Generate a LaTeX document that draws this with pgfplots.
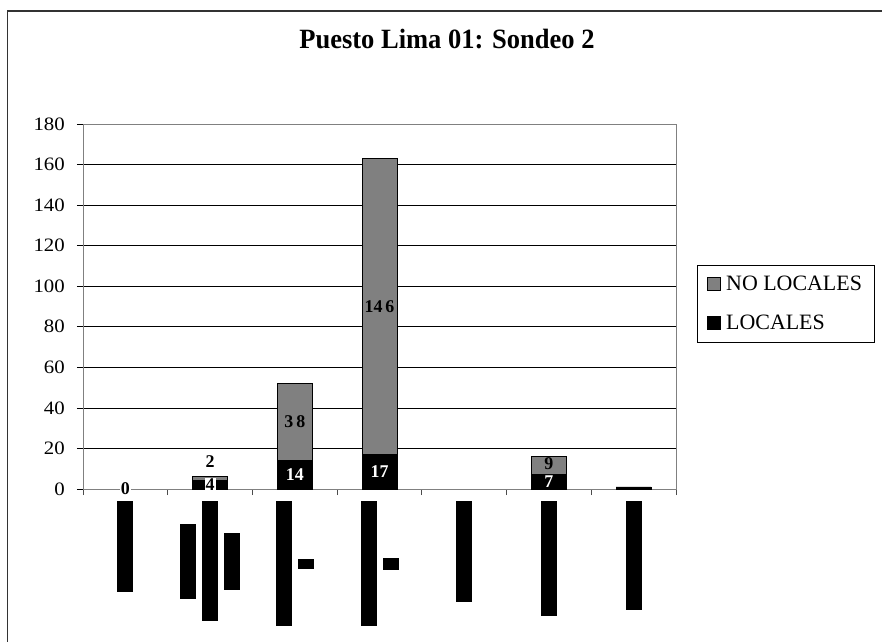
\documentclass[border=0pt]{standalone}
\usepackage{fontspec}
\setmainfont{Liberation Serif}
\usepackage{pgfplots}
\pgfplotsset{compat=1.18}
\definecolor{nolocal}{RGB}{128,128,128}
\definecolor{plotborder}{RGB}{128,128,128}
% rotated category names drawn as solid blocks, centred on the baseline
\newcommand\blk[1]{\rule[\dimexpr -#1bp/2\relax]{16bp}{#1bp}}
\newcommand\gap{\hspace{6bp}}
\tikzset{vl/.style={font=\bfseries\fontsize{18}{18}\selectfont, inner sep=1bp}}

\begin{document}
\begin{tikzpicture}
\path[use as bounding box] (0bp,0bp) rectangle (882bp,-642bp);
\begin{scope}
\clip (0bp,0bp) rectangle (882bp,-642bp);
\draw[line width=1.2bp, black!80] (7.5bp,-11bp) rectangle (900bp,-660bp);
\end{scope}

\begin{axis}[
    at={(83bp,-489bp)}, anchor=south west,
    scale only axis,
    width=593bp, height=365bp,
    ybar stacked,
    bar width=35bp,
    xmin=-0.5, xmax=6.5,
    ymin=0, ymax=180,
    ytick={0,20,...,180},
    yticklabel={\scalebox{1.1}[1]{\pgfmathprintnumber{\tick}}},
    xtick={0,...,6},
    xticklabels={
        {\blk{91}},
        {\blk{75}\gap\blk{120}\gap\blk{57}},
        {\blk{125}\gap\blk{10}},
        {\blk{125}\gap\blk{12}},
        {\blk{101}},
        {\blk{115}},
        {\blk{109}}},
    minor xtick={-0.5,0.5,...,6.5},
    xtick pos=bottom, ytick pos=left,
    x tick style={draw=none},
    minor x tick style={draw=black!70, line width=0.8bp},
    y tick style={draw=black, line width=0.6bp},
    tick align=outside,
    major tick length=6bp,
    minor tick length=6bp,
    ymajorgrids=true,
    grid style={black, line width=0.7bp},
    axis line style={plotborder, line width=1bp},
    xticklabel style={anchor=north, inner sep=0pt, yshift=-6bp},
    yticklabel style={font=\fontsize{19}{19}\selectfont, inner sep=0pt, xshift=-12bp},
    /pgf/number format/assume math mode=true,
    legend style={at={(rel axis cs:1.0354,0.6137)}, anchor=north west, draw=black, line width=0.8bp,
        font=\fontsize{22}{24}\selectfont, row sep=19bp, inner xsep=10bp, inner ysep=9bp,
        cells={anchor=west}},
    legend cell align=left,
    reverse legend,
    legend image code/.code={\draw[#1, line width=0.8bp] (0bp,-6bp) rectangle (13bp,7bp);},
    clip=false,
    after end axis/.code={
        \node[vl, fill=white] at (axis cs:0,0) {0};
        \node[vl, fill=white] at (axis cs:1,2) {4};
        \node[vl] at (axis cs:1,13.5) {2};
        \node[vl, text=white] at (axis cs:2,7) {14};
        \node[vl] at (axis cs:2,33) {3\hspace{3bp}8};
        \node[vl, text=white] at (axis cs:3,8.5) {17};
        \node[vl] at (axis cs:3,90) {14\hspace{3bp}6};
        \node[vl, text=white] at (axis cs:5,3.5) {7};
        \node[vl] at (axis cs:5,12.5) {9};
    },
]
% LOCALES
\addplot[fill=black, draw=black, line width=0.8bp] coordinates {
    (0,0) (1,4) (2,14) (3,17) (4,0) (5,7) (6,1)};
\addlegendentry{\hspace{3bp}LOCALES}
% NO LOCALES
\addplot[fill=nolocal, draw=black, line width=0.8bp] coordinates {
    (0,0) (1,2) (2,38) (3,146) (4,0) (5,9) (6,0)};
\addlegendentry{\hspace{3bp}NO LOCALES}
\end{axis}

\node[anchor=base] at (447bp,-48bp) {\scalebox{0.95}[1]{\bfseries\fontsize{28}{28}\selectfont Puesto Lima 01: Sondeo 2}};
\end{tikzpicture}
\end{document}
